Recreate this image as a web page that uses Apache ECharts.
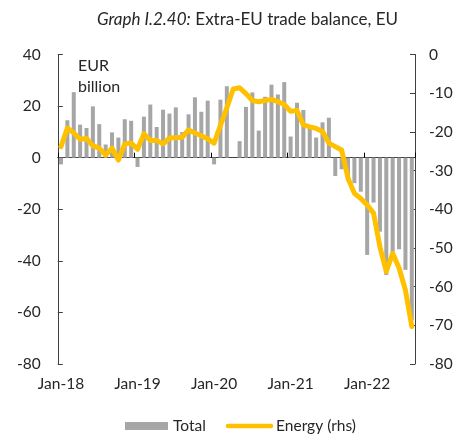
<!DOCTYPE html>
<html>
<head>
<meta charset="utf-8">
<script src="https://cdn.jsdelivr.net/npm/echarts@6/dist/echarts.min.js"></script>
<style>
html,body{margin:0;padding:0;background:#fff;}
#chart{width:460px;height:437px;}
</style>
</head>
<body>
<div id="chart"></div>
<script>
// ---- data ----
const monthNames = ['Jan','Feb','Mar','Apr','May','Jun','Jul','Aug','Sep','Oct','Nov','Dec'];
const years = ['18','19','20','21','22'];
const lastYearMonths = 8; // Jan-22 .. Aug-22
const categories = [];
years.forEach((y, yi) => {
  const n = yi === years.length - 1 ? lastYearMonths : 12;
  for (let m = 0; m < n; m++) categories.push(monthNames[m] + '-' + y);
});

// Total extra-EU trade balance, EUR billion (lhs)
const total = [
  -2.6, 14.5, 25.4, 12.8, 11.5, 19.9, 13.0, 5.1, 9.8, 7.8, 14.9, 14.3,
  -3.6, 15.9, 20.6, 11.9, 18.6, 17.1, 19.5, 9.9, 16.8, 23.4, 17.8, 22.1,
  -2.6, 22.5, 27.7, 0.0, 6.4, 19.7, 25.3, 10.5, 23.6, 28.3, 24.5, 29.3,
  8.2, 21.3, 18.5, 11.5, 7.8, 13.7, 15.5, -7.1, -4.5, -9.0, -9.9, -13.2,
  -37.7, -17.4, -28.7, -45.5, -37.5, -35.5, -43.5, -63.0
];

// Energy trade balance, EUR billion (rhs)
const energy = [
  -23.8, -19.0, -20.3, -21.9, -21.7, -23.6, -24.2, -26.0, -24.2, -27.3, -23.1, -22.9,
  -24.5, -20.5, -22.2, -22.2, -23.1, -21.6, -21.5, -21.4, -19.5, -20.3, -21.0, -21.8,
  -22.9, -18.3, -13.8, -8.9, -8.6, -10.1, -11.9, -12.2, -11.9, -11.6, -12.2, -12.9,
  -14.7, -14.5, -18.2, -18.7, -19.1, -19.9, -22.9, -23.8, -24.7, -32.0, -35.9, -37.2,
  -38.9, -41.0, -49.7, -56.1, -51.4, -55.2, -60.9, -70.3
];

const leftTicks = { min: -80, max: 40, interval: 20 };
const rightTicks = { min: -80, max: 0, interval: 10 };

// ---- chart ----
const FONT = 'Lato';
const TXT = '#262626';
const AX = '#404040';
const chart = echarts.init(document.getElementById('chart'), null, { renderer: 'canvas' });
chart.setOption({
  animation: false,
  backgroundColor: '#fff',
  textStyle: { fontFamily: FONT, color: TXT },
  title: {
    text: '{i|Graph I.2.40:} {n|Extra-EU trade balance, EU}',
    left: 92, top: 6,
    textStyle: {
      fontWeight: 'normal',
      rich: {
        i: { fontFamily: FONT, fontStyle: 'italic', fontWeight: 'normal', fontSize: 17, color: TXT },
        n: { fontFamily: FONT, fontWeight: 'normal', fontSize: 17, color: TXT }
      }
    }
  },
  grid: { left: 57.8, right: 45, top: 54.5, bottom: 73, containLabel: false },
  legend: {
    left: 125, top: 418, padding: 0,
    itemWidth: 43, itemHeight: 8, itemGap: 20,
    textStyle: { fontFamily: FONT, fontSize: 15.5, color: TXT },
    data: [
      { name: 'Total', icon: 'rect' },
      { name: 'Energy (rhs)', itemStyle: { opacity: 0 }, lineStyle: { width: 4.5, cap: 'round' } }
    ]
  },
  graphic: [{
    type: 'text', left: 78, top: 55,
    style: { text: 'EUR\nbillion', font: '16px ' + FONT, fill: TXT, lineHeight: 21 }
  }],
  xAxis: [{
    type: 'category', data: categories, position: 'bottom', boundaryGap: true,
    axisLine: { show: true, onZero: true, onZeroAxisIndex: 0, lineStyle: { color: AX, width: 1 } },
    axisTick: { show: true, inside: true, interval: 11, length: 5, lineStyle: { color: '#000' } },
    axisLabel: { show: false },
    splitLine: { show: false }
  }, {
    type: 'category', data: categories, position: 'bottom', boundaryGap: true,
    axisLine: { show: false, onZero: false },
    axisTick: { show: false },
    axisLabel: { show: true, interval: 11, margin: 12, fontFamily: FONT, fontSize: 15.5, color: TXT },
    splitLine: { show: false }
  }],
  yAxis: [{
    type: 'value', position: 'left', min: leftTicks.min, max: leftTicks.max, interval: leftTicks.interval,
    axisLine: { show: true, lineStyle: { color: AX, width: 1 } },
    axisTick: { show: true, inside: true, length: 5, lineStyle: { color: AX } },
    axisLabel: { margin: 17, fontFamily: FONT, fontSize: 15.5, color: TXT },
    splitLine: { show: false }
  }, {
    type: 'value', position: 'right', min: rightTicks.min, max: rightTicks.max, interval: rightTicks.interval,
    axisLine: { show: true, lineStyle: { color: AX, width: 1 } },
    axisTick: { show: true, inside: true, length: 5, lineStyle: { color: AX } },
    axisLabel: { margin: 14, fontFamily: FONT, fontSize: 15.5, color: TXT },
    splitLine: { show: false }
  }],
  series: [{
    name: 'Total', type: 'bar', xAxisIndex: 0, yAxisIndex: 0,
    data: total, barWidth: 4,
    itemStyle: { color: '#a6a6a6' }
  }, {
    name: 'Energy (rhs)', type: 'line', xAxisIndex: 0, yAxisIndex: 1,
    data: energy, symbol: 'none', smooth: false,
    lineStyle: { color: '#ffc000', width: 5, join: 'round', cap: 'round' },
    itemStyle: { color: '#ffc000' }
  }]
});
</script>
</body>
</html>
